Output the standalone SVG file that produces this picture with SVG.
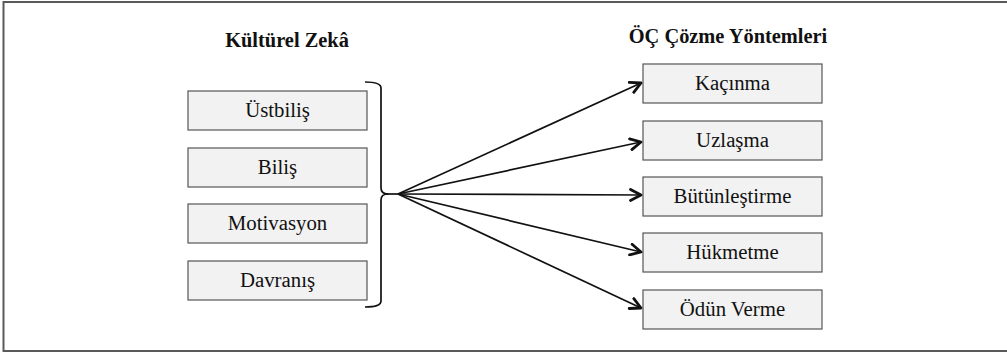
<svg xmlns="http://www.w3.org/2000/svg" width="1007" height="353" viewBox="0 0 1007 353">
  <style>
    .frame { fill: none; stroke: #5a5a5a; stroke-width: 2; }
    .box rect { fill: #f2f2f2; stroke: #555; stroke-width: 1.2; }
    .box text { font-family: 'Liberation Serif', 'DejaVu Serif', serif; font-size: 20.8px; fill: #111; text-anchor: middle; }
    .title { font-family: 'Liberation Serif', 'DejaVu Serif', serif; font-size: 20.4px; font-weight: bold; fill: #111; text-anchor: middle; }
    .brace { fill: none; stroke: #111; stroke-width: 1.7; stroke-linejoin: round; }
    .arrow { fill: none; stroke: #111; stroke-width: 1.7; marker-end: url(#head); }
  </style>
  <defs>
    <marker id="head" viewBox="0 0 14 14" refX="12" refY="7" markerWidth="14" markerHeight="14" markerUnits="userSpaceOnUse" orient="auto">
      <path d="M1.5,1.5 L12,7 L1.5,12.5" fill="none" stroke="#111" stroke-width="2.8" stroke-linecap="round" stroke-linejoin="round"/>
    </marker>
  </defs>

  <!-- outer frame (open on the right) -->
  <path class="frame" d="M1008,2 H3.5 V351 H1008"/>

  <!-- column titles -->
  <text class="title" x="287" y="47">Kültürel Zekâ</text>
  <text class="title" x="728" y="43">ÖÇ Çözme Yöntemleri</text>

  <!-- left column: dimensions of cultural intelligence -->
  <g id="ustbilis" class="box">
    <rect x="188" y="91" width="179" height="39"/>
    <text x="277.5" y="117">Üstbiliş</text>
  </g>
  <g id="bilis" class="box">
    <rect x="188" y="148" width="179" height="39"/>
    <text x="277.5" y="174">Biliş</text>
  </g>
  <g id="motivasyon" class="box">
    <rect x="188" y="204" width="179" height="39"/>
    <text x="277.5" y="230">Motivasyon</text>
  </g>
  <g id="davranis" class="box">
    <rect x="188" y="261" width="179" height="39"/>
    <text x="277.5" y="287">Davranış</text>
  </g>

  <!-- right column: conflict resolution styles -->
  <g id="kacinma" class="box">
    <rect x="643" y="64" width="179" height="39"/>
    <text x="732.5" y="90">Kaçınma</text>
  </g>
  <g id="uzlasma" class="box">
    <rect x="643" y="121" width="179" height="39"/>
    <text x="732.5" y="147">Uzlaşma</text>
  </g>
  <g id="butunlestirme" class="box">
    <rect x="643" y="177" width="179" height="39"/>
    <text x="732.5" y="203">Bütünleştirme</text>
  </g>
  <g id="hukmetme" class="box">
    <rect x="643" y="233" width="179" height="39"/>
    <text x="732.5" y="259">Hükmetme</text>
  </g>
  <g id="odun-verme" class="box">
    <rect x="643" y="290" width="179" height="39"/>
    <text x="732.5" y="316">Ödün Verme</text>
  </g>

  <!-- connectors: grouping brace and fan of arrows -->
  <g id="connectors">
    <path class="brace" d="M365,82 Q381,82 381,88 V188 Q381,194 388,194 Q381,194 381,200 V301 Q381,307 365,307"/>
    <path class="brace" d="M386,194 H398"/>
    <line class="arrow" x1="398" y1="194" x2="641" y2="83"/>
    <line class="arrow" x1="398" y1="194" x2="641" y2="142"/>
    <line class="arrow" x1="398" y1="194" x2="641" y2="195"/>
    <line class="arrow" x1="398" y1="194" x2="641" y2="252"/>
    <line class="arrow" x1="398" y1="194" x2="641" y2="308"/>
  </g>
</svg>
